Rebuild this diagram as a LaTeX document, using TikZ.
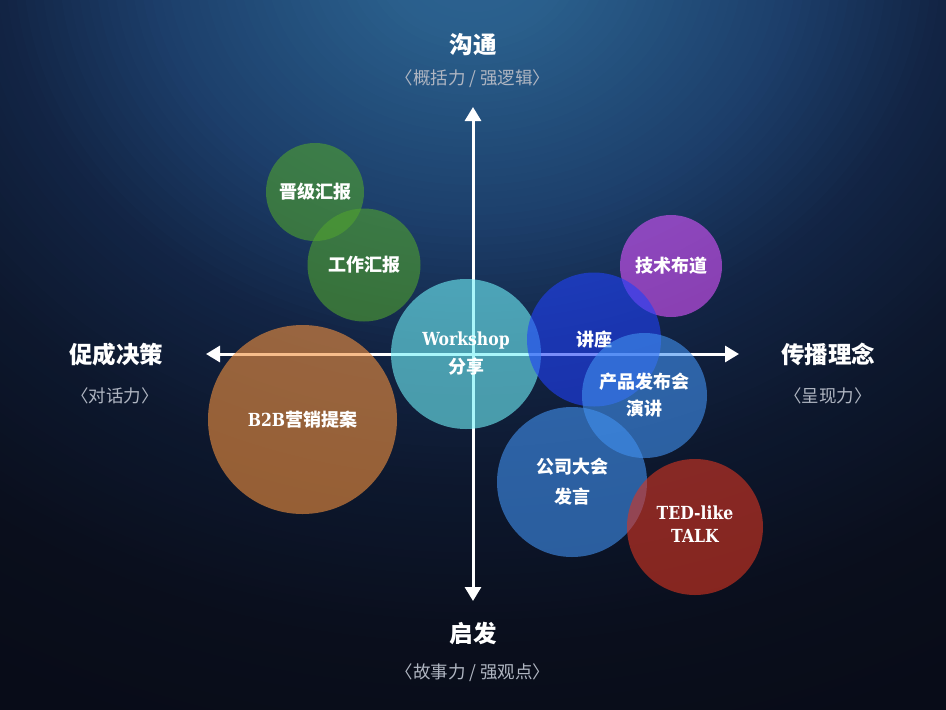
\documentclass[tikz,border=0pt]{standalone}
\usepackage{fontspec}
\setmainfont{Noto Sans CJK SC}
\newfontfamily\slab{DejaVu Serif}
\usetikzlibrary{arrows.meta}
\definecolor{sA}{RGB}{8,12,24}
\definecolor{sB}{RGB}{10,14,28}
\definecolor{sC}{RGB}{13,24,46}
\definecolor{sD}{RGB}{18,36,68}
\definecolor{sE}{RGB}{28,62,106}
\definecolor{sF}{RGB}{42,95,140}
\definecolor{sG}{RGB}{44,98,145}
\definecolor{cgreen}{RGB}{80,162,47}
\definecolor{cteal}{RGB}{112,240,248}
\definecolor{cdblue}{RGB}{32,65,248}
\definecolor{cpurple}{RGB}{218,83,253}
\definecolor{cblue}{RGB}{65,145,240}
\definecolor{cred}{RGB}{217,53,33}
\definecolor{corange}{RGB}{243,145,62}
\definecolor{subgray}{RGB}{176,182,194}
\tikzset{
  axis/.style={draw=white, line width=3pt, {Triangle[width=16pt,length=14pt]}-{Triangle[width=16pt,length=14pt]}},
  bubble/.style={circle, inner sep=0pt, minimum size=#1, fill opacity=0.6, text opacity=1, text=white, align=center,
    font=\bfseries\fontsize{18}{28}\selectfont},
  title/.style={text=white, font=\bfseries\fontsize{23.5}{28}\selectfont},
  subtitle/.style={text=subgray, font=\fontsize{17.5}{20}\selectfont},
}
\newcommand{\slabtxt}[1]{{\slab\bfseries\scalebox{0.87}[1]{#1}}}
\begin{document}
\begin{tikzpicture}[x=1pt,y=-1pt]
\useasboundingbox (0,0) rectangle (946,710);
\begin{scope}
  \clip (0,0) rectangle (946,710);
  \fill[sA] (0,0) rectangle (946,710);
  \foreach \a/\b/\ca/\cb in {130/110/sA/sA, 110/92/sA/sB, 92/70/sB/sC, 70/53/sC/sD, 53/36/sD/sE, 36/10/sE/sF, 10/1/sF/sG} {
    \pgfmathtruncatemacro\an{\a-1}
    \foreach \i in {\a,\an,...,\b} {
      \pgfmathsetmacro\p{(\i-\b)/(\a-\b)*100}
      \fill[\ca!\p!\cb] (473,-40) ellipse [x radius=9*\i, y radius=7.5*\i];
    }
  }
\end{scope}
% axes
\coordinate (ytop) at (473,107);
\coordinate (ybot) at (473,601);
\coordinate (xl) at (206,354);
\coordinate (xr) at (739,354);
\draw[axis] (ytop) -- (ybot);
\draw[axis] (xl) -- (xr);
% axis labels
\node[title] (tTop) at (473,45) {沟通};
\node[subtitle] (sTop) at (473,79) {〈概括力 / 强逻辑〉};
\node[title] (tBot) at (473,634) {启发};
\node[subtitle] (sBot) at (473,673) {〈故事力 / 强观点〉};
\node[title] (tLeft) at (116,355) {促成决策};
\node[subtitle] (sLeft) at (115,396) {〈对话力〉};
\node[title] (tRight) at (828,354) {传播理念};
\node[subtitle] (sRight) at (828,396) {〈呈现力〉};
% bubbles
\node[bubble=98pt, fill=cgreen] (jj) at (315,192) {晋级汇报};
\node[bubble=113pt, fill=cgreen] (gz) at (364,265) {工作汇报};
\node[bubble=189pt, fill=corange] (b2b) at (302.5,419.5) {\slabtxt{B2B}营销提案};
\node[bubble=150pt, fill=cteal] (ws) at (466,354) {\raisebox{1pt}{\slabtxt{Workshop}}\\[-1pt]分享};
\node[bubble=102pt, fill=cpurple] (js) at (671,266) {技术布道};
\node[bubble=134pt, fill=cdblue] (jz) at (594,339.5) {讲座};
\node[bubble=125pt, fill=cblue] (cp) at (644.5,395.5) {产品发布会\\[-1pt]演讲};
\node[bubble=150pt, fill=cblue] (gs) at (572,482) {公司大会\\[2pt]发言};
\node[bubble=136pt, fill=cred, font=\bfseries\fontsize{18}{23}\selectfont] (ted) at (695,527) {\raisebox{5pt}{\slabtxt{TED-like}}\\\raisebox{5pt}{\slabtxt{TALK}}};
\end{tikzpicture}
\end{document}
